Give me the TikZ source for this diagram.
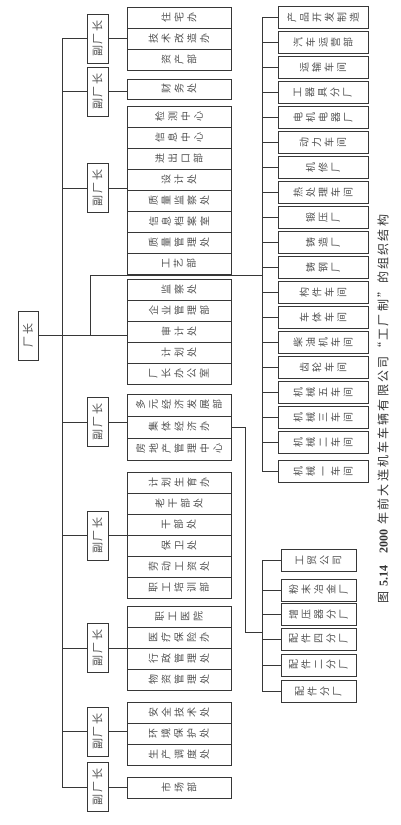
\documentclass[tikz,border=0pt]{standalone}
\usepackage{fontspec}
\setmainfont{Noto Sans CJK SC}
\newfontfamily\numfont{Liberation Serif}
\newfontfamily\widefont[LetterSpace=18]{Noto Sans CJK SC}
\usepackage{tikz}
\usetikzlibrary{calc}
\definecolor{linegray}{RGB}{55,55,55}
\definecolor{textgray}{RGB}{80,80,80}
% one character per line (column text in the unrotated chart)
\def\vtxt#1{\vtxtloop#1\vtxtend}
\def\vtxtloop#1#2\vtxtend{#1\if\relax\detokenize{#2}\relax\else\\\vtxtloop#2\vtxtend\fi}
\tikzset{
  box/.style={draw=linegray, line width=0.7pt, text=textgray,
              inner sep=0pt, align=center},
  link/.style={draw=linegray, line width=0.7pt},
}

\begin{document}
\begin{tikzpicture}[x=1pt, y=1pt, rotate=90, transform shape,
  chief/.style={box, minimum width=49pt, minimum height=20pt,
                font=\widefont\fontsize{11}{13}\selectfont},
  vice/.style={box, minimum width=49pt, minimum height=21pt,
               font=\widefont\fontsize{11}{13}\selectfont},
  dept/.style={box, minimum width=21pt, minimum height=104pt,
               font=\fontsize{10}{12.8}\selectfont},
  shop/.style={box, minimum width=22pt, minimum height=90pt,
               font=\fontsize{10}{12.5}\selectfont},
  firm/.style={box, minimum width=22pt, minimum height=75pt,
               font=\fontsize{10}{12.5}\selectfont}
]
  \useasboundingbox (0,0) rectangle (825,401);

  %% ── director ──
  \node[chief] (DIR) at (489.5,373) {厂长};

  %% ── vice directors ──
  \node[vice] (V1) at (786.5,303.5) {副厂长};
  \node[vice] (V2) at (733.5,303.5) {副厂长};
  \node[vice] (V3) at (637,303.5)   {副厂长};
  \node[vice] (V4) at (403,303.5)   {副厂长};
  \node[vice] (V5) at (289.5,303.5) {副厂长};
  \node[vice] (V6) at (177,303.5)   {副厂长};
  \node[vice] (V7) at (93.5,303.5)  {副厂长};
  \node[vice] (V8) at (38,303.5)    {副厂长};

  %% ── departments ──
  \node[dept] (G1a) at (765.5,222) {\vtxt{资产部}};
  \node[dept] (G1b) at (786.5,222) {\vtxt{技术改造办}};
  \node[dept] (G1c) at (807.5,222) {\vtxt{住宅办}};

  \node[dept, minimum width=20pt] (G2) at (736,222) {\vtxt{财务处}};

  \node[dept] (G3a) at (561.5,222) {\vtxt{工艺部}};
  \node[dept] (G3b) at (582.5,222) {\vtxt{质量管理处}};
  \node[dept] (G3c) at (603.5,222) {\vtxt{信息档案室}};
  \node[dept] (G3d) at (624.5,222) {\vtxt{质量监察处}};
  \node[dept] (G3e) at (645.5,222) {\vtxt{设计处}};
  \node[dept] (G3f) at (666.5,222) {\vtxt{进出口部}};
  \node[dept] (G3g) at (687.5,222) {\vtxt{信息中心}};
  \node[dept] (G3h) at (708.5,222) {\vtxt{检测中心}};

  \node[dept] (G4a) at (451,222) {\vtxt{厂长办公室}};
  \node[dept] (G4b) at (472,222) {\vtxt{计划处}};
  \node[dept] (G4c) at (493,222) {\vtxt{审计处}};
  \node[dept] (G4d) at (514,222) {\vtxt{企业管理部}};
  \node[dept] (G4e) at (535,222) {\vtxt{监察处}};

  \node[dept, minimum width=22pt] (G5a) at (376,222) {\vtxt{房地产管理中心}};
  \node[dept, minimum width=22pt] (G5b) at (398,222) {\vtxt{集体经济办}};
  \node[dept, minimum width=22pt] (G5c) at (420,222) {\vtxt{多元经济发展部}};

  \node[dept] (G6a) at (237.5,222) {\vtxt{职工培训部}};
  \node[dept] (G6b) at (258.5,222) {\vtxt{劳动工资处}};
  \node[dept] (G6c) at (279.5,222) {\vtxt{保卫处}};
  \node[dept] (G6d) at (300.5,222) {\vtxt{干部处}};
  \node[dept] (G6e) at (321.5,222) {\vtxt{老干部处}};
  \node[dept] (G6f) at (342.5,222) {\vtxt{计划生育办}};

  \node[dept] (G7a) at (145,222) {\vtxt{物资管理处}};
  \node[dept] (G7b) at (166,222) {\vtxt{行政管理处}};
  \node[dept] (G7c) at (187,222) {\vtxt{医疗保险办}};
  \node[dept] (G7d) at (208,222) {\vtxt{职工医院}};

  \node[dept] (G8a) at (70.5,222)  {\vtxt{生产调度处}};
  \node[dept] (G8b) at (91.5,222)  {\vtxt{环境保护处}};
  \node[dept] (G8c) at (112.5,222) {\vtxt{安全技术处}};

  \node[dept] (G9) at (37.5,222) {\vtxt{市场部}};

  %% ── workshops and branch factories ──
  \node[shop] (S1)  at (807.5,78) {\vtxt{产品开发制造}};
  \node[shop] (S2)  at (782.5,78) {\vtxt{汽车运营部}};
  \node[shop] (S3)  at (757.5,78) {\vtxt{运输车间}};
  \node[shop] (S4)  at (732.5,78) {\vtxt{工器具分厂}};
  \node[shop] (S5)  at (707.5,78) {\vtxt{电机电器厂}};
  \node[shop] (S6)  at (682.5,78) {\vtxt{动力车间}};
  \node[shop] (S7)  at (657.5,78) {\vtxt{机修厂}};
  \node[shop] (S8)  at (632.5,78) {\vtxt{热处理车间}};
  \node[shop] (S9)  at (607.5,78) {\vtxt{锻压厂}};
  \node[shop] (S10) at (582.5,78) {\vtxt{铸造厂}};
  \node[shop] (S11) at (557.5,78) {\vtxt{铸钢厂}};
  \node[shop] (S12) at (532.5,78) {\vtxt{构件车间}};
  \node[shop] (S13) at (507.5,78) {\vtxt{车体车间}};
  \node[shop] (S14) at (482.5,78) {\vtxt{柴油机车间}};
  \node[shop] (S15) at (457.5,78) {\vtxt{齿轮车间}};
  \node[shop] (S16) at (432.5,78) {\vtxt{机械五车间}};
  \node[shop] (S17) at (407.5,78) {\vtxt{机械三车间}};
  \node[shop] (S18) at (382.5,78) {\vtxt{机械二车间}};
  \node[shop] (S19) at (353.5,78) {\vtxt{机械一车间}};

  %% ── collective firms ──
  \node[firm] (F1) at (264.5,82.5) {\vtxt{工贸公司}};
  \node[firm] (F2) at (235,82.5)   {\vtxt{粉末冶金厂}};
  \node[firm] (F3) at (210.5,82.5) {\vtxt{增压器分厂}};
  \node[firm] (F4) at (186,82.5)   {\vtxt{配件四分厂}};
  \node[firm] (F5) at (160,82.5)   {\vtxt{配件二分厂}};
  \node[firm] (F6) at (133.5,82.5) {\vtxt{配件分厂}};

  %% ── vice trunk ──
  \draw[link] (V8.north) -- ++(0,24) -| (V1.north);
  \draw[link] (V2.north) -- ++(0,24);
  \draw[link] (V3.north) -- ++(0,24);
  \draw[link] (V4.north) -- ++(0,24);
  \draw[link] (V5.north) -- ++(0,24);
  \draw[link] (V6.north) -- ++(0,24);
  \draw[link] (V7.north) -- ++(0,24);

  %% ── vice to departments ──
  \draw[link] (V1.south) -- (V1.south |- G1b.north);
  \draw[link] (V2.south) -- (V2.south |- G2.north);
  \draw[link] (V3.south) -- (V3.south |- G3d.north);
  \draw[link] (V4.south) -- (V4.south |- G5b.north);
  \draw[link] (V5.south) -- (V5.south |- G6c.north);
  \draw[link] (V6.south) -- (V6.south |- G7b.north);
  \draw[link] (V7.south) -- (V7.south |- G8b.north);
  \draw[link] (V8.south) -- (V8.south |- G9.north);

  %% ── director to offices and workshops ──
  \coordinate (fork)  at (489.5,311);
  \coordinate (split) at (550,138);
  \draw[link] (DIR.south) -- (DIR.south |- G4c.north);
  \draw[link] (fork) -| (split);
  \draw[link] (S1.north) -- ++(0,15) -| (S19.north);
  \draw[link] (S2.north)  -- ++(0,15);
  \draw[link] (S3.north)  -- ++(0,15);
  \draw[link] (S4.north)  -- ++(0,15);
  \draw[link] (S5.north)  -- ++(0,15);
  \draw[link] (S6.north)  -- ++(0,15);
  \draw[link] (S7.north)  -- ++(0,15);
  \draw[link] (S8.north)  -- ++(0,15);
  \draw[link] (S9.north)  -- ++(0,15);
  \draw[link] (S10.north) -- ++(0,15);
  \draw[link] (S11.north) -- ++(0,15);
  \draw[link] (S12.north) -- ++(0,15);
  \draw[link] (S13.north) -- ++(0,15);
  \draw[link] (S14.north) -- ++(0,15);
  \draw[link] (S15.north) -- ++(0,15);
  \draw[link] (S16.north) -- ++(0,15);
  \draw[link] (S17.north) -- ++(0,15);
  \draw[link] (S18.north) -- ++(0,15);

  %% ── collective economy office to its firms ──
  \coordinate (join) at (193,138);
  \draw[link] (G5b.south) -- ++(0,-14) -| (join);
  \draw[link] (F1.north) -- ++(0,18) -| (F6.north);
  \draw[link] (F2.north) -- ++(0,18);
  \draw[link] (F3.north) -- ++(0,18);
  \draw[link] (F4.north) -- ++(0,18);
  \draw[link] (F5.north) -- ++(0,18);

  %% ── caption ──
  \node[text=black!80, font=\widefont\fontsize{12}{14}\selectfont] (CAP) at (416,18)
    {图 {\numfont\bfseries 5.14}\quad {\numfont\bfseries 2000} 年前大连机车车辆有限公司“工厂制”的组织结构};
\end{tikzpicture}
\end{document}
